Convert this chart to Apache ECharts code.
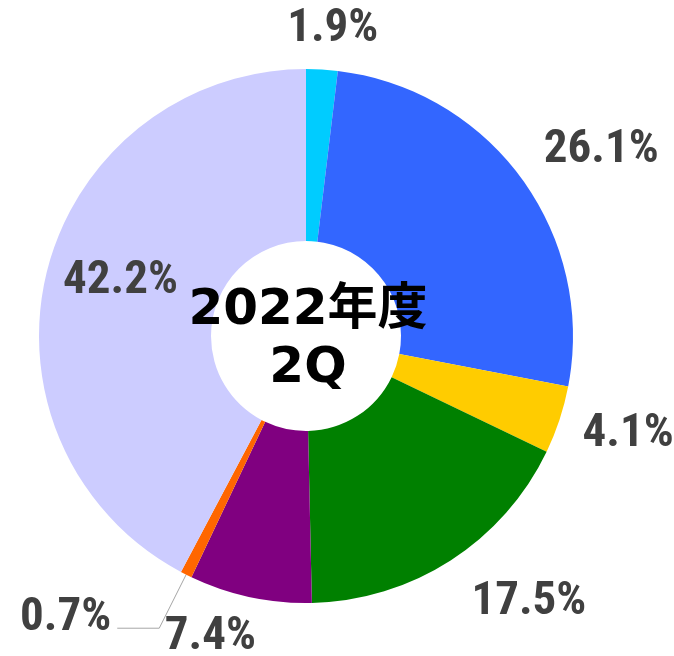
<!DOCTYPE html>
<html>
<head>
<meta charset="utf-8">
<script src="https://cdn.jsdelivr.net/npm/echarts@6/dist/echarts.min.js"></script>
<style>
  html, body { margin: 0; padding: 0; background: #fff; }
  #chart { width: 674px; height: 656px; }
</style>
</head>
<body>
<div id="chart"></div>
<script>
const categories = ['A', 'B', 'C', 'D', 'E', 'F', 'G'];
const shares = [1.9, 26.1, 4.1, 17.5, 7.4, 0.7, 42.2];
const sliceColors = ['#00CCFF', '#3366FF', '#FFCC00', '#008000', '#800080', '#FF6600', '#CCCCFF'];
const centerText = '2022年度\n2Q';

// small per-label nudges so the text sits where the original put it
const labelNudge = [[-36, -20], [6, -17], [4, 8], [10, 25], [10, 21], [0, -10], [-7, -10]];

const chart = echarts.init(document.getElementById('chart'));

const pieData = shares.map((v, i) => {
    const item = { name: categories[i], value: v, itemStyle: { color: sliceColors[i] } };
    if (i === 5) {
        item.labelLine = { show: true, length: 60, length2: 42 };
        item.label = { distanceToLabelLine: 6 };
    }
    if (i === 6) {
        item.label = { position: 'inside' };
    }
    return item;
});

chart.setOption({
    backgroundColor: '#fff',
    animation: false,
    graphic: [{
        type: 'text',
        x: 308,
        y: 340,
        z: 10,
        style: {
            text: centerText,
            align: 'center',
            verticalAlign: 'middle',
            fontFamily: '"DejaVu Sans", "Noto Sans CJK JP", sans-serif',
            fontWeight: 'bold',
            fontSize: 50,
            lineHeight: 58,
            fill: '#000'
        }
    }],
    series: [{
        type: 'pie',
        center: [306, 336],
        radius: [95, 267],
        startAngle: 90,
        clockwise: true,
        avoidLabelOverlap: false,
        silent: true,
        label: {
            show: true,
            position: 'outside',
            formatter: p => p.value.toFixed(1) + '%',
            fontFamily: '"Liberation Sans Narrow", "Roboto Condensed", Arial, sans-serif',
            fontWeight: 'bold',
            fontSize: 47,
            color: '#404040',
            distanceToLabelLine: 0
        },
        labelLine: {
            show: false,
            length: 20,
            length2: 0,
            lineStyle: { color: '#A6A6A6', width: 1 }
        },
        labelLayout: params => {
            const n = labelNudge[params.dataIndex];
            return { dx: n[0], dy: n[1] };
        },
        data: pieData
    }]
});
</script>
</body>
</html>
